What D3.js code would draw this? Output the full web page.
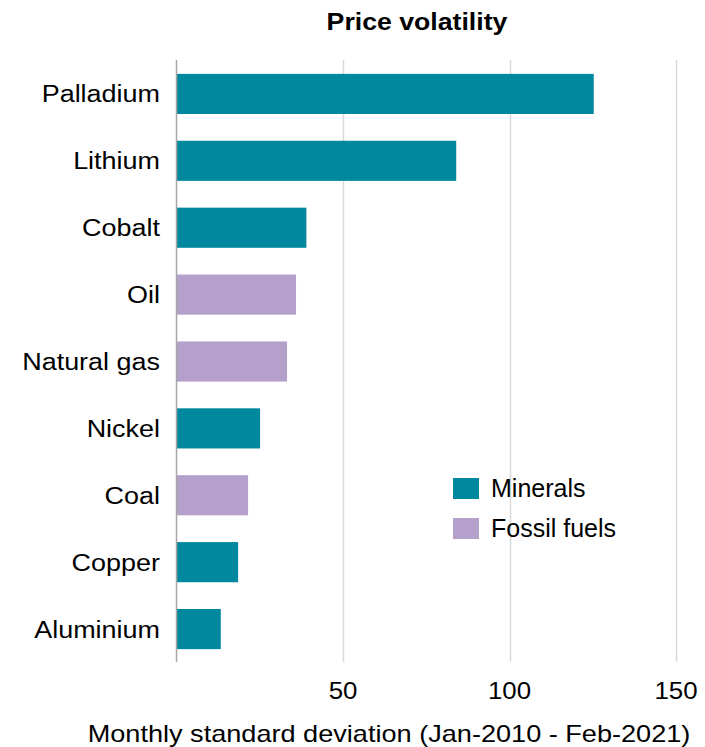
<!DOCTYPE html>
<html>
<head>
<meta charset="utf-8">
<script src="https://cdn.jsdelivr.net/npm/d3@7"></script>
<style>
  body { margin: 0; background: #fff; }
  text { font-family: "Liberation Sans", Arial, sans-serif; fill: #000; }
</style>
</head>
<body>
<svg width="705" height="747"></svg>
<script>
const categories = ["Palladium", "Lithium", "Cobalt", "Oil", "Natural gas", "Nickel", "Coal", "Copper", "Aluminium"];
const values = [125.3, 84, 39, 35.9, 33.2, 25.1, 21.5, 18.5, 13.3];
const groups = ["Minerals", "Minerals", "Minerals", "Fossil fuels", "Fossil fuels", "Minerals", "Fossil fuels", "Minerals", "Minerals"];
const legendItems = ["Minerals", "Fossil fuels"];
const tickValues = [50, 100, 150];

const svg = d3.select("svg");
const color = d3.scaleOrdinal().domain(legendItems).range(["#00889e", "#b59fcb"]);

const x = d3.scaleLinear().domain([0, 150]).range([176.5, 676]);
const y = d3.scaleBand().domain(categories).range([60.5, 662.5]).paddingInner(0.4).paddingOuter(0.2);

// gridlines
svg.append("g")
  .selectAll("line")
  .data(tickValues)
  .join("line")
  .attr("x1", d => Math.round(x(d)) + 0.5)
  .attr("x2", d => Math.round(x(d)) + 0.5)
  .attr("y1", 60)
  .attr("y2", 662)
  .attr("stroke", "#d9d9d9")
  .attr("stroke-width", 1.5);

// bars
svg.append("g")
  .selectAll("rect")
  .data(categories)
  .join("rect")
  .attr("x", x(0))
  .attr("y", d => y(d))
  .attr("width", (d, i) => x(values[i]) - x(0))
  .attr("height", y.bandwidth())
  .attr("fill", (d, i) => color(groups[i]));

// axis line
svg.append("line")
  .attr("x1", x(0)).attr("x2", x(0))
  .attr("y1", 60).attr("y2", 662)
  .attr("stroke", "#a6a6a6")
  .attr("stroke-width", 1.5);

// category labels
svg.append("g")
  .selectAll("text")
  .data(categories)
  .join("text")
  .attr("transform", d => `translate(160,${y(d) + y.bandwidth() / 2 + 8.5}) scale(1.1,1)`)
  .attr("text-anchor", "end")
  .attr("font-size", 24.5)
  .text(d => d);

// tick labels
svg.append("g")
  .selectAll("text")
  .data(tickValues)
  .join("text")
  .attr("transform", d => `translate(${x(d)},699) scale(1.1,1)`)
  .attr("text-anchor", "middle")
  .attr("font-size", 23.5)
  .text(d => d);

// axis title
svg.append("text")
  .attr("transform", "translate(389,742) scale(1.13,1)")
  .attr("text-anchor", "middle")
  .attr("font-size", 24)
  .text("Monthly standard deviation (Jan-2010 - Feb-2021)");

// title
svg.append("text")
  .attr("transform", "translate(417,30) scale(1.16,1)")
  .attr("text-anchor", "middle")
  .attr("font-size", 23)
  .attr("font-weight", "bold")
  .text("Price volatility");

// legend
const legend = svg.append("g")
  .selectAll("g")
  .data(legendItems)
  .join("g")
  .attr("transform", (d, i) => `translate(453,${478 + i * 40})`);
legend.append("rect")
  .attr("width", 26)
  .attr("height", 21)
  .attr("fill", d => color(d));
legend.append("text")
  .attr("x", 38)
  .attr("y", 19)
  .attr("font-size", 25)
  .text(d => d);
</script>
</body>
</html>
